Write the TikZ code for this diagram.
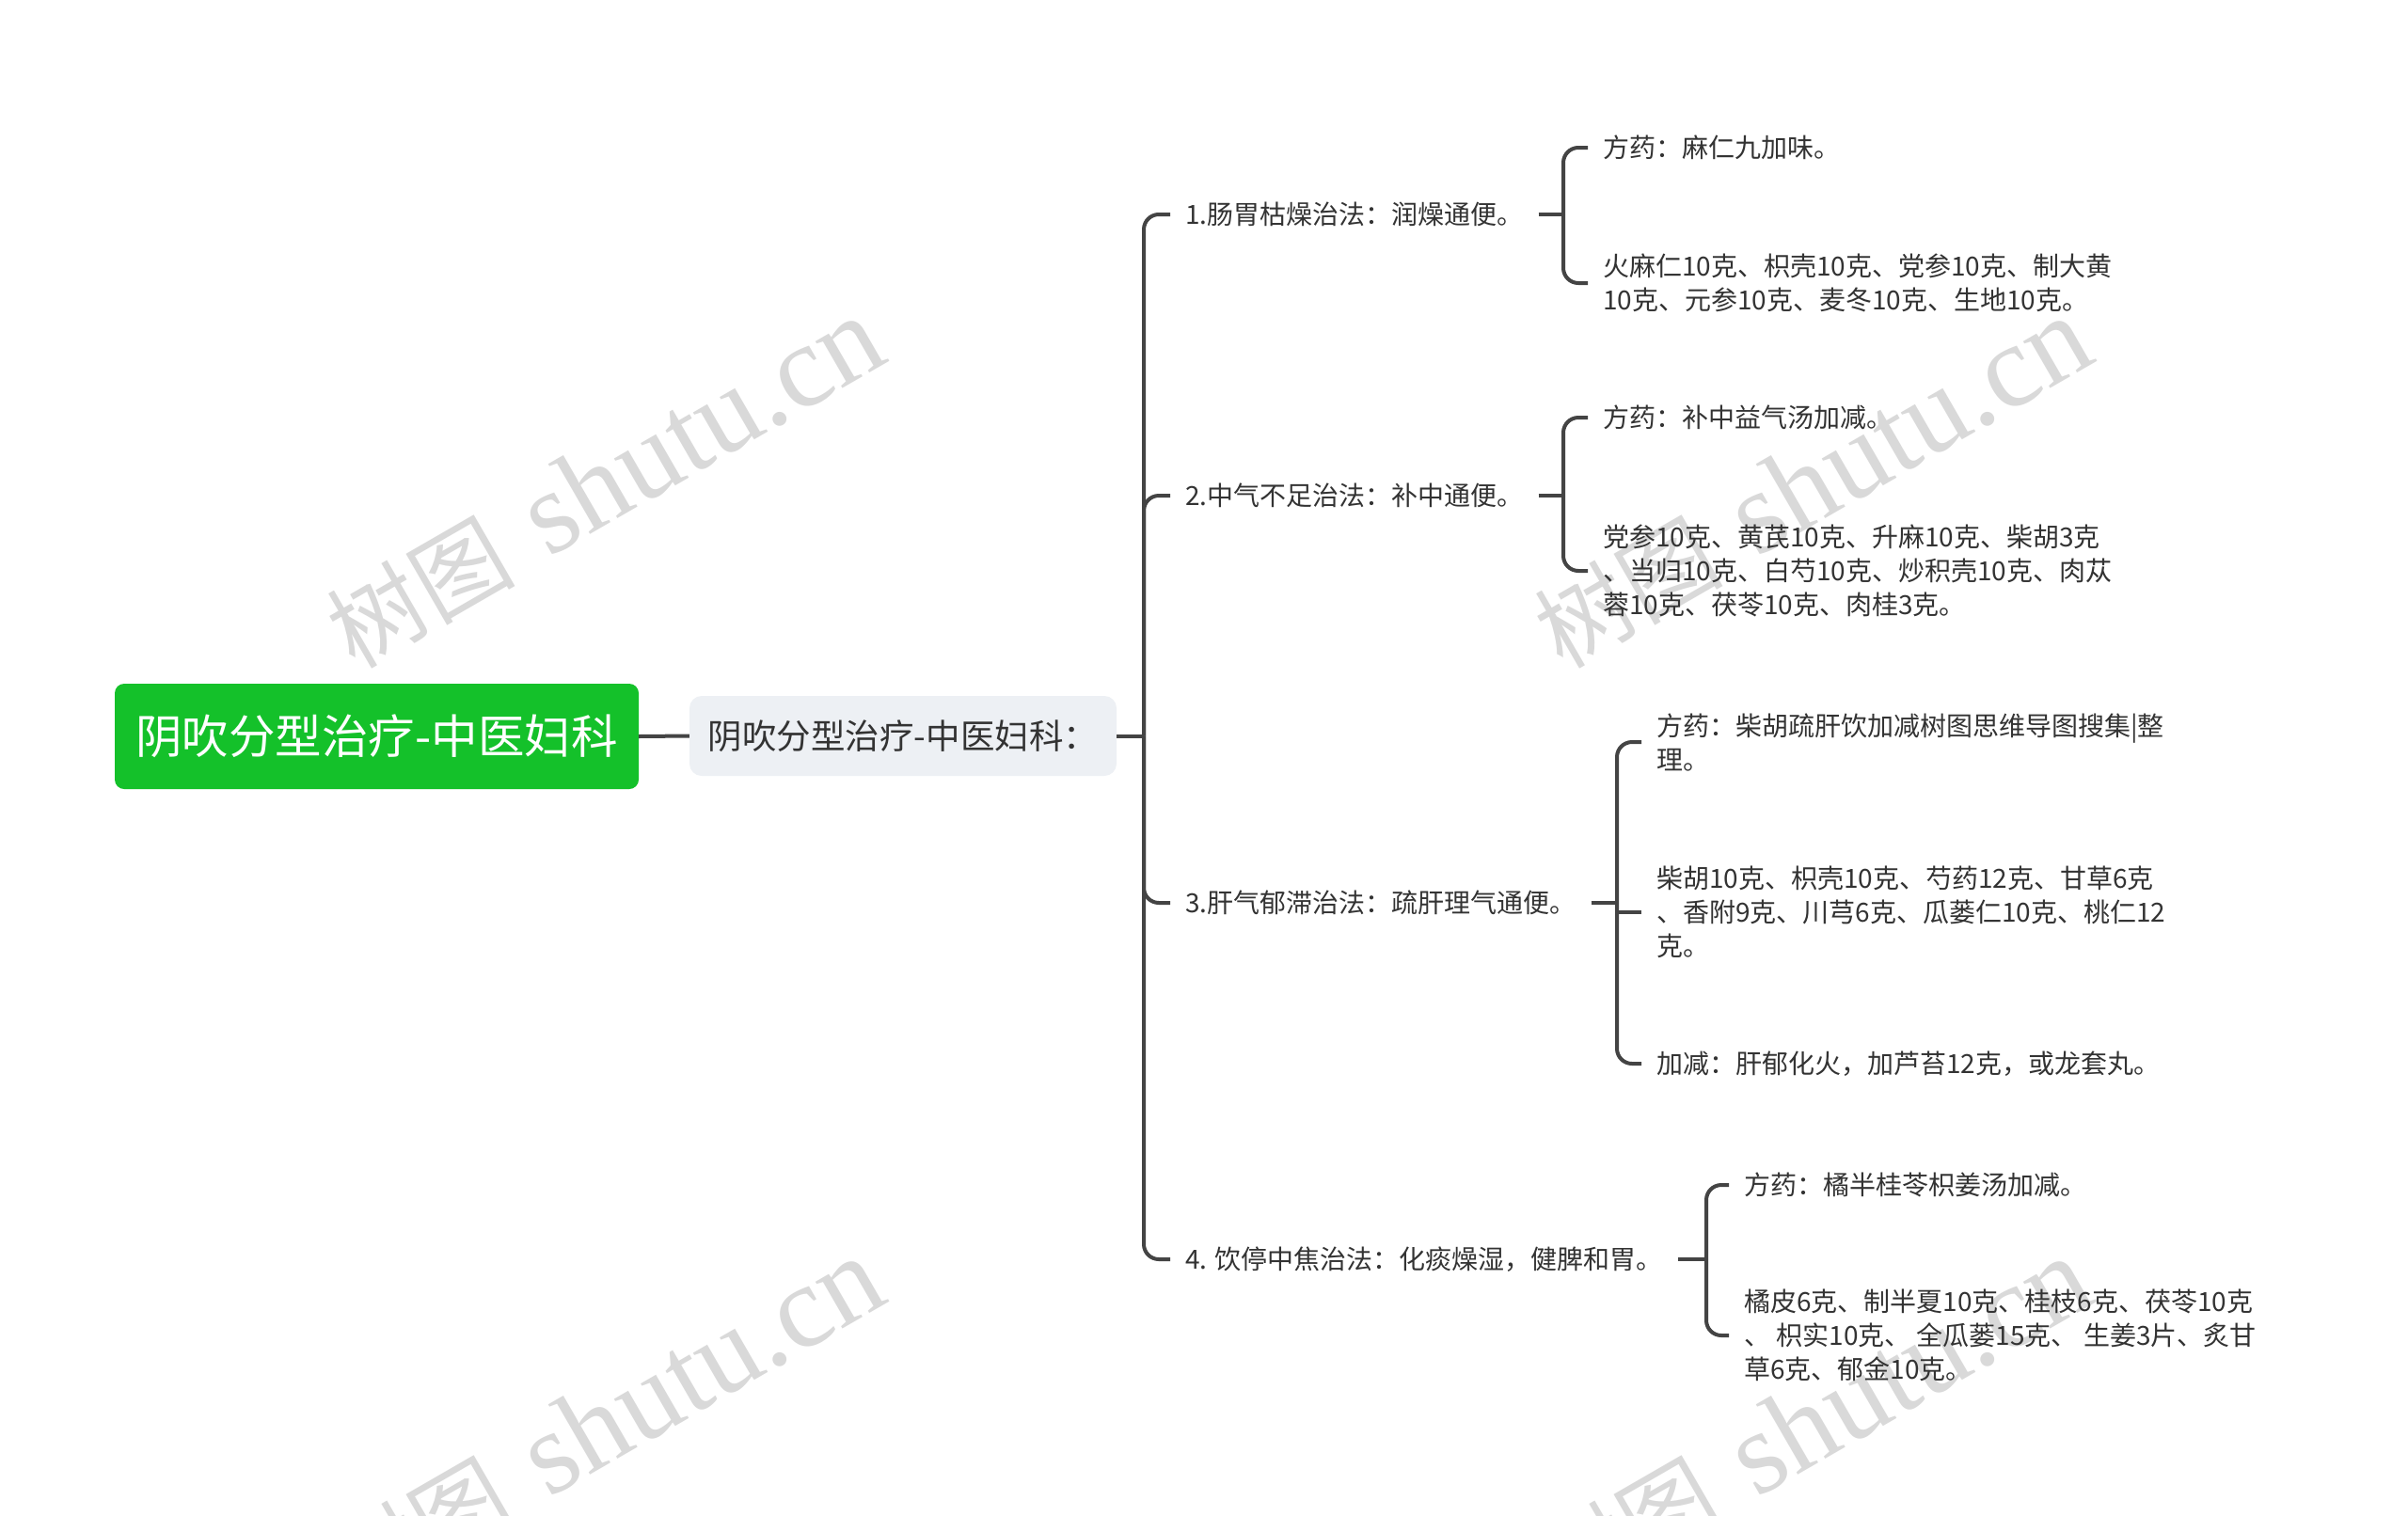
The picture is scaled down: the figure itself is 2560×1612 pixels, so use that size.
\documentclass[tikz,border=0pt]{standalone}
\usepackage{fontspec}
\setmainfont{Noto Sans CJK SC}
\newfontfamily\wmserif{Liberation Serif}
\definecolor{rootg}{HTML}{14C12A}
\definecolor{subg}{HTML}{EDF0F4}
\definecolor{linec}{HTML}{444444}
\definecolor{txt}{HTML}{333333}
\definecolor{wmc}{HTML}{D9D9D9}
\tikzset{
  conn/.style={draw=linec, line width=4pt, rounded corners=16pt},
  lvl/.style={anchor=west, inner xsep=16pt, inner ysep=2pt, font=\fontsize{28}{36}\selectfont, text=txt, align=left},
  rootbox/.style={fill=rootg, rounded corners=10pt, minimum width=557pt, minimum height=112pt, text=white, font=\fontsize{49.5}{56}\selectfont, inner sep=0pt},
  subbox/.style={fill=subg, rounded corners=13pt, minimum width=454pt, minimum height=85pt, text=txt, font=\fontsize{36.5}{44}\selectfont, inner sep=0pt},
  wm/.style={text=wmc, rotate=30, font=\fontsize{100}{100}\selectfont, inner sep=0pt}
}
\begin{document}
\begin{tikzpicture}[x=1pt,y=-1pt]
\fill[white] (0,0) rectangle (2560,1612);
\useasboundingbox (0,0) rectangle (2560,1612);
% watermarks
\node[wm] (w1) at (643,514) {树图\hspace{38pt}{\wmserif\fontsize{125}{125}\selectfont shutu.cn}};
\node[wm] (w2) at (1927,514) {树图\hspace{38pt}{\wmserif\fontsize{125}{125}\selectfont shutu.cn}};
\node[wm] (w3) at (643,1514) {树图\hspace{38pt}{\wmserif\fontsize{125}{125}\selectfont shutu.cn}};
\node[wm] (w4) at (1927,1514) {树图\hspace{38pt}{\wmserif\fontsize{125}{125}\selectfont shutu.cn}};
% main nodes
\node[rootbox] (root) at (400.5,783) {阴吹分型治疗-中医妇科};
\node[subbox] (sub) at (960,782.5) {阴吹分型治疗-中医妇科：};
\coordinate (v0) at (1216,0);
\coordinate (v1) at (1662,0);
\coordinate (v3) at (1719,0);
\coordinate (v4) at (1814,0);
% level 1
\node[lvl] (a1) at (1244,228) {1.肠胃枯燥治法：润燥通便。};
\node[lvl] (a2) at (1244,527) {2.中气不足治法：补中通便。};
\node[lvl] (a3) at (1244,960) {3.肝气郁滞治法：疏肝理气通便。};
\node[lvl] (a4) at (1244,1339) {4. 饮停中焦治法：化痰燥湿，健脾和胃。};
% level 2
\node[lvl] (b1) at (1688,157) {方药：麻仁九加味。};
\node[lvl] (b2) at (1688,301) {火麻仁10克、枳壳10克、党参10克、制大黄\\10克、元参10克、麦冬10克、生地10克。};
\node[lvl] (c1) at (1688,444) {方药：补中益气汤加减。};
\node[lvl] (c2) at (1688,607) {党参10克、黄芪10克、升麻10克、柴胡3克\\、当归10克、白芍10克、炒积壳10克、肉苁\\蓉10克、茯苓10克、肉桂3克。};
\node[lvl] (d1) at (1745,789) {方药：柴胡疏肝饮加减树图思维导图搜集|整\\理。};
\node[lvl] (d2) at (1745,970) {柴胡10克、枳壳10克、芍药12克、甘草6克\\、香附9克、川芎6克、瓜蒌仁10克、桃仁12\\克。};
\node[lvl] (d3) at (1745,1131) {加减：肝郁化火，加芦苔12克，或龙套丸。};
\node[lvl] (e1) at (1838,1260) {方药：橘半桂苓枳姜汤加减。};
\node[lvl] (e2) at (1838,1420) {橘皮6克、制半夏10克、桂枝6克、茯苓10克\\、 枳实10克、 全瓜蒌15克、 生姜3片、炙甘\\草6克、郁金10克。};
% connectors
\draw[conn] (root.east) -- (sub.west);
\draw[conn] (sub.east) -- (sub.east -| v0);
\foreach \n in {a1,a2,a3,a4} \draw[conn] (sub.east -| v0) |- (\n.west);
\draw[conn] (a1.east) -- (a1.east -| v1);
\foreach \n in {b1,b2} \draw[conn] (a1.east -| v1) |- (\n.west);
\draw[conn] (a2.east) -- (a2.east -| v1);
\foreach \n in {c1,c2} \draw[conn] (a2.east -| v1) |- (\n.west);
\draw[conn] (a3.east) -- (a3.east -| v3);
\foreach \n in {d1,d3} \draw[conn] (a3.east -| v3) |- (\n.west);
\draw[conn] (d2.west -| v3) -- (d2.west);
\draw[conn] (a4.east) -- (a4.east -| v4);
\foreach \n in {e1,e2} \draw[conn] (a4.east -| v4) |- (\n.west);
\end{tikzpicture}
\end{document}
